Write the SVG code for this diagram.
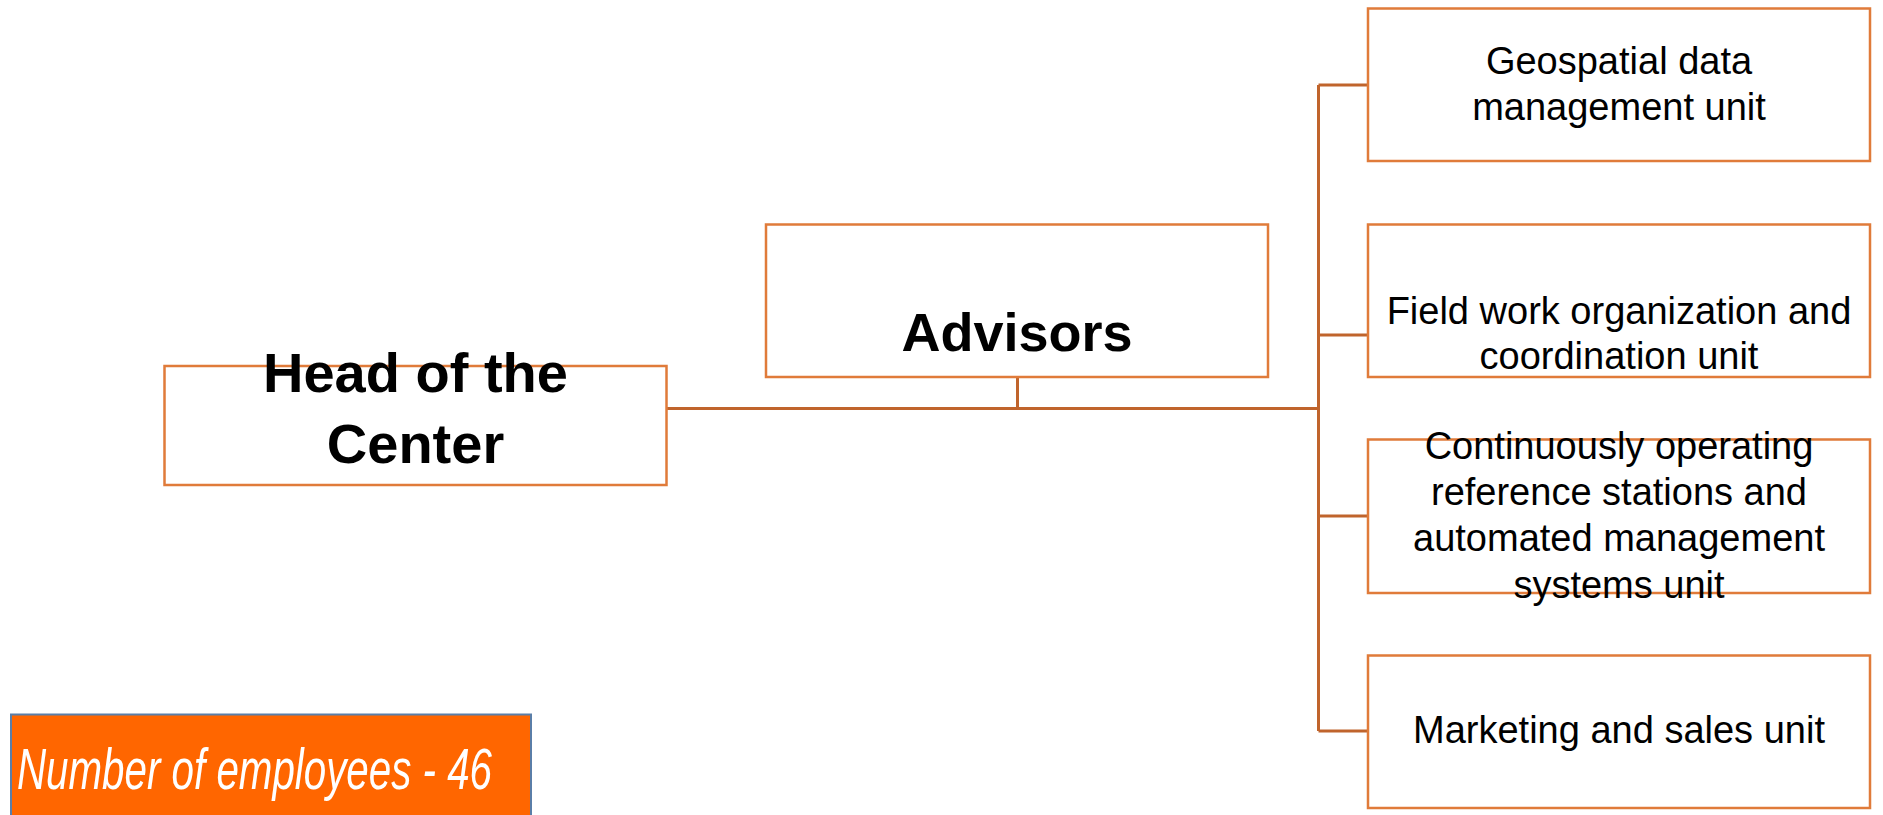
<svg xmlns="http://www.w3.org/2000/svg" width="1883" height="815" viewBox="0 0 1883 815">
<style>
.box{fill:#fff;stroke:#E07B3A;stroke-width:2.5}
.conn{fill:none;stroke:#C0642C;stroke-width:3}
.b{font-family:"Liberation Sans",Arial,sans-serif;font-weight:bold;fill:#000;text-anchor:middle}
.r{font-family:"Liberation Sans",Arial,sans-serif;font-size:38px;fill:#000;text-anchor:middle}
.emp{font-family:"Liberation Sans",Arial,sans-serif;font-style:italic;fill:#fff}
</style>
<rect width="1883" height="815" fill="#fff"/>
<g id="connectors">
<path class="conn" d="M666.5 408.5H1318.5"/>
<path class="conn" d="M1017.5 377V408.5"/>
<path class="conn" d="M1318.5 85V731"/>
<path class="conn" d="M1318.5 85H1368"/>
<path class="conn" d="M1318.5 335H1368"/>
<path class="conn" d="M1318.5 516H1368"/>
<path class="conn" d="M1318.5 731H1368"/>
</g>
<g id="head">
<rect class="box" x="164.5" y="366" width="502" height="119"/>
<text class="b" font-size="56" x="415.5" y="392">Head of the</text>
<text class="b" font-size="56" x="415.5" y="463">Center</text>
</g>
<g id="advisors">
<rect class="box" x="766" y="224.5" width="502" height="152.5"/>
<text class="b" font-size="54" x="1017" y="351">Advisors</text>
</g>
<g id="unit1">
<rect class="box" x="1368" y="8.5" width="502" height="152.5"/>
<text class="r" x="1619" y="74">Geospatial data</text>
<text class="r" x="1619" y="120">management unit</text>
</g>
<g id="unit2">
<rect class="box" x="1368" y="224.5" width="502" height="152.5"/>
<text class="r" x="1619" y="324">Field work organization and</text>
<text class="r" x="1619" y="369">coordination unit</text>
</g>
<g id="unit3">
<rect class="box" x="1368" y="439.5" width="502" height="153.5"/>
<text class="r" x="1619" y="459">Continuously operating</text>
<text class="r" x="1619" y="505">reference stations and</text>
<text class="r" x="1619" y="551">automated management</text>
<text class="r" x="1619" y="598">systems unit</text>
</g>
<g id="unit4">
<rect class="box" x="1368" y="655.5" width="502" height="152.5"/>
<text class="r" x="1619" y="743">Marketing and sales unit</text>
</g>
<g id="employees">
<rect x="11" y="714.5" width="520" height="110" fill="#FF6600" stroke="#5A7EA8" stroke-width="2"/>
<text class="emp" font-size="58" x="17" y="789" textLength="475" lengthAdjust="spacingAndGlyphs">Number of employees - 46</text>
</g>
</svg>
